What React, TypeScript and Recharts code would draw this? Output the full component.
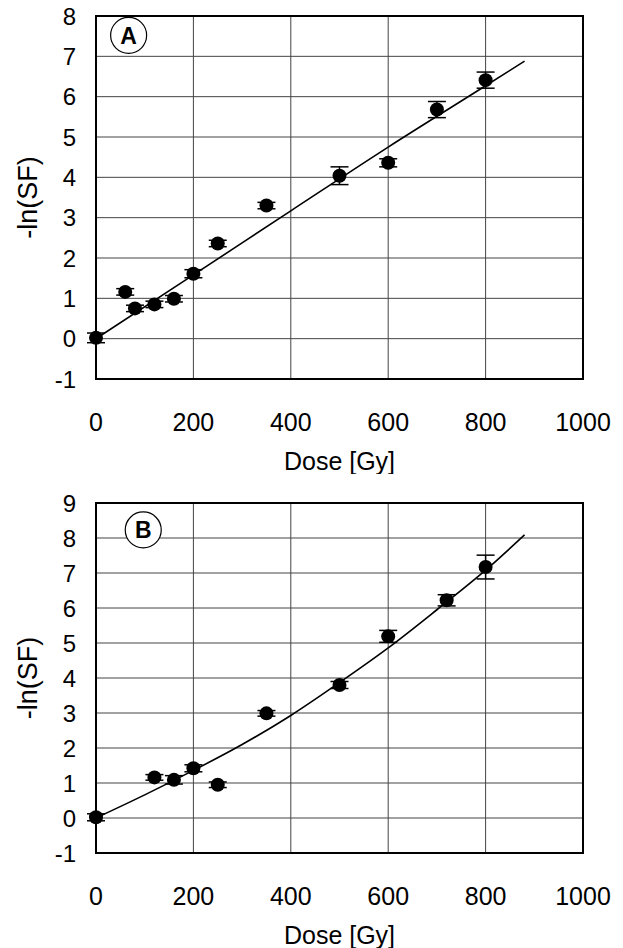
import React from "react";
import {
  ScatterChart,
  Scatter,
  XAxis,
  YAxis,
  CartesianGrid,
  ErrorBar,
  ReferenceArea,
  ReferenceDot,
} from "recharts";

// Panel A data
const doseA = [0, 60, 80, 120, 160, 200, 250, 350, 500, 600, 700, 800];
const lnSFA = [0.02, 1.16, 0.75, 0.85, 0.99, 1.61, 2.36, 3.3, 4.04, 4.36, 5.68, 6.41];
const errA = [0.12, 0.08, 0.08, 0.08, 0.08, 0.1, 0.08, 0.08, 0.22, 0.1, 0.2, 0.2];
const fitDoseA = [0, 200, 400, 600, 800, 880];
const fitA = [0, 1.58, 3.17, 4.75, 6.27, 6.88];

// Panel B data
const doseB = [0, 120, 160, 200, 250, 350, 500, 600, 720, 800];
const lnSFB = [0.02, 1.16, 1.09, 1.42, 0.95, 2.99, 3.8, 5.19, 6.22, 7.17];
const errB = [0.1, 0.08, 0.12, 0.1, 0.08, 0.08, 0.1, 0.17, 0.16, 0.34];
const fitDoseB = [0, 100, 200, 300, 400, 500, 600, 700, 800, 880];
const fitB = [0, 0.66, 1.36, 2.1, 2.93, 3.87, 4.86, 5.95, 7.08, 8.09];

const xTicks = [0, 200, 400, 600, 800, 1000];
const yTicksA = [-1, 0, 1, 2, 3, 4, 5, 6, 7, 8];
const yTicksB = [-1, 0, 1, 2, 3, 4, 5, 6, 7, 8, 9];

const FONT = '"Liberation Sans", Arial, sans-serif';

const Dot = (props: any) => {
  const { cx, cy } = props;
  if (cx == null || cy == null) return null;
  return <circle cx={cx} cy={cy} r={7} fill="#000" />;
};

const NoShape = () => null;

const makeBadge = (letter: string) => (props: any) => {
  const { cx, cy } = props;
  return (
    <g>
      <circle cx={cx} cy={cy} r={18} fill="#fff" stroke="#000" strokeWidth={1.2} />
      <text
        x={cx}
        y={cy + 8.5}
        textAnchor="middle"
        fontFamily={FONT}
        fontWeight="bold"
        fontSize={23}
        fill="#000"
      >
        {letter}
      </text>
    </g>
  );
};

type PanelProps = {
  dose: number[];
  vals: number[];
  errs: number[];
  fitDose: number[];
  fitVals: number[];
  yMax: number;
  yTicks: number[];
  marginTop: number;
  height: number;
  letter: string;
  badgeX: number;
  badgeY: number;
};

const Panel = (p: PanelProps) => {
  const points = p.dose.map((d, i) => ({ x: d, y: p.vals[i], err: p.errs[i] }));
  const fit = p.fitDose.map((d, i) => ({ x: d, y: p.fitVals[i] }));
  return (
    <ScatterChart
      width={623}
      height={p.height}
      margin={{ top: p.marginTop, right: 40, bottom: 0, left: 0 }}
      style={{ fontFamily: FONT }}
    >
      <CartesianGrid stroke="#444" strokeWidth={1} horizontal vertical />
      <XAxis
        type="number"
        dataKey="x"
        domain={[0, 1000]}
        ticks={xTicks}
        height={95}
        tickLine={false}
        tickSize={0}
        tickMargin={34}
        axisLine={false}
        tick={{ fill: "#000", fontSize: 25, fontFamily: FONT }}
        label={{
          value: "Dose [Gy]",
          position: "insideBottom",
          offset: 4,
          fill: "#000",
          fontSize: 25,
          fontFamily: FONT,
        }}
      />
      <YAxis
        type="number"
        dataKey="y"
        domain={[-1, p.yMax]}
        ticks={p.yTicks}
        width={96}
        tickLine={false}
        tickSize={0}
        tickMargin={20}
        axisLine={false}
        interval={0}
        tick={{ fill: "#000", fontSize: 24, fontFamily: FONT }}
        label={{
          value: "-ln(SF)",
          angle: -90,
          position: "insideLeft",
          offset: 27,
          fill: "#000",
          fontSize: 27,
          fontFamily: FONT,
          style: { textAnchor: "middle" },
        }}
      />
      <ReferenceArea
        x1={0}
        x2={1000}
        y1={-1}
        y2={p.yMax}
        fill="none"
        fillOpacity={0}
        stroke="#000"
        strokeWidth={2}
      />
      <Scatter
        data={fit}
        line={{ stroke: "#000", strokeWidth: 1.6 }}
        lineType="joint"
        lineJointType="monotoneX"
        shape={NoShape}
        isAnimationActive={false}
      />
      <Scatter data={points} shape={Dot} isAnimationActive={false}>
        <ErrorBar
          dataKey="err"
          direction="y"
          width={9}
          stroke="#000"
          strokeWidth={1.5}
          isAnimationActive={false}
        />
      </Scatter>
      <ReferenceDot
        x={p.badgeX}
        y={p.badgeY}
        r={18}
        shape={makeBadge(p.letter)}
        ifOverflow="visible"
      />
    </ScatterChart>
  );
};

export default function App() {
  return (
    <div
      style={{
        position: "absolute",
        left: 0,
        top: 0,
        width: 623,
        height: 948,
        background: "#fff",
      }}
    >
      <Panel
        dose={doseA}
        vals={lnSFA}
        errs={errA}
        fitDose={fitDoseA}
        fitVals={fitA}
        yMax={8}
        yTicks={yTicksA}
        marginTop={16}
        height={474}
        letter="A"
        badgeX={67}
        badgeY={7.52}
      />
      <Panel
        dose={doseB}
        vals={lnSFB}
        errs={errB}
        fitDose={fitDoseB}
        fitVals={fitB}
        yMax={9}
        yTicks={yTicksB}
        marginTop={29}
        height={474}
        letter="B"
        badgeX={97}
        badgeY={8.23}
      />
    </div>
  );
}
